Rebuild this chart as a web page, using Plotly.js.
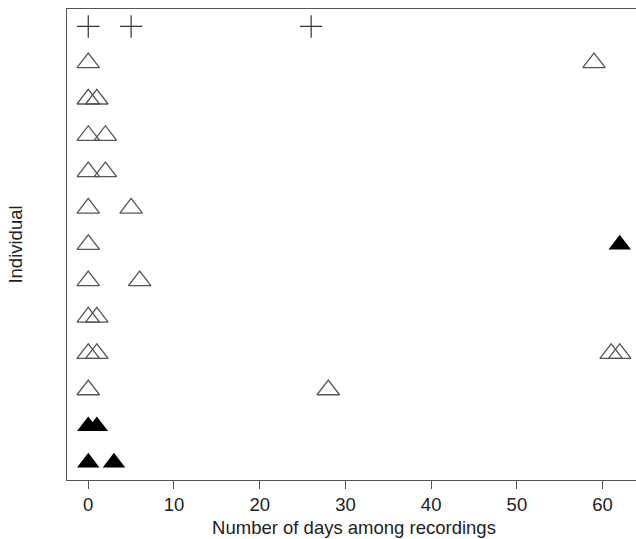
<!DOCTYPE html>
<html>
<head>
<meta charset="utf-8">
<script src="https://cdn.plot.ly/plotly-3.0.1.min.js"></script>
<style>
html, body { margin: 0; padding: 0; overflow: hidden; background: #fff; }
#chart { width: 644px; height: 539px; }
</style>
</head>
<body>
<div id="chart"></div>
<script>
// Individuals are rows 1 (bottom) to 13 (top)
const plusDays = [0, 5, 26];
const plusRows = [13, 13, 13];

const openDays = [0, 59, 0, 1, 0, 2, 0, 2, 0, 5, 0, 0, 6, 0, 1, 0, 1, 61, 62, 0, 28];
const openRows = [12, 12, 11, 11, 10, 10, 9, 9, 8, 8, 7, 6, 6, 5, 5, 4, 4, 4, 4, 3, 3];

const filledDays = [62, 0, 1, 0, 3];
const filledRows = [7, 2, 2, 1, 1];

const xTicks = [0, 10, 20, 30, 40, 50, 60];
const xTitle = 'Number of days among recordings';
const yTitle = 'Individual';

const font = 'Liberation Sans, Arial, sans-serif';

const traces = [
  {
    x: plusDays, y: plusRows, type: 'scatter', mode: 'markers',
    marker: { symbol: 'cross-thin-open', size: 16, color: '#333', line: { color: '#333', width: 1.2 } },
    hoverinfo: 'x+y'
  },
  {
    x: openDays, y: openRows, type: 'scatter', mode: 'markers',
    marker: { symbol: 'triangle-up-open', size: 19.5, color: '#555', line: { color: '#555', width: 1.3 } },
    hoverinfo: 'x+y'
  },
  {
    x: filledDays, y: filledRows, type: 'scatter', mode: 'markers',
    marker: { symbol: 'triangle-up', size: 19.5, color: '#000', line: { width: 0 } },
    hoverinfo: 'x+y'
  }
];

const layout = {
  width: 644, height: 539,
  margin: { l: 67, r: 3, t: 9, b: 59 },
  paper_bgcolor: '#fff', plot_bgcolor: '#fff',
  showlegend: false,
  font: { family: font, size: 18.5, color: '#222' },
  xaxis: {
    range: [-2.48, 64.48],
    tickvals: xTicks,
    ticktext: xTicks.map(String),
    ticks: 'outside', ticklen: 8, tickwidth: 1, tickcolor: '#555',
    showline: true, linecolor: '#555', linewidth: 1, mirror: true,
    showgrid: false, zeroline: false,
    tickfont: { family: font, size: 18.5, color: '#222' },
    title: { text: xTitle, font: { family: font, size: 18.5, color: '#222' }, standoff: 6 }
  },
  yaxis: {
    range: [0.52, 13.48],
    showticklabels: false, ticks: '',
    showline: true, linecolor: '#555', linewidth: 1, mirror: true,
    showgrid: false, zeroline: false,
    title: { text: yTitle, font: { family: font, size: 18.5, color: '#222' }, standoff: 38 }
  }
};

Plotly.newPlot('chart', traces, layout, { displayModeBar: false, staticPlot: true });
</script>
</body>
</html>
